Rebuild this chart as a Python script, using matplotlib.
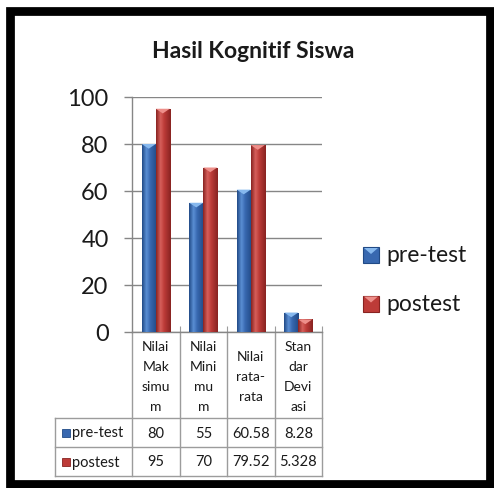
import numpy as np
import matplotlib.pyplot as plt
from matplotlib.patches import Rectangle, Polygon
from matplotlib.colors import LinearSegmentedColormap

# data
categories = ["Nilai\nMak\nsimu\nm", "Nilai\nMini\nmu\nm", "Nilai\nrata-\nrata", "Stan\ndar\nDevi\nasi"]
series_names = ["pre-test", "postest"]
pre_test = [80, 55, 60.58, 8.28]
postest = [95, 70, 79.52, 5.328]
pre_labels = ["80", "55", "60.58", "8.28"]
post_labels = ["95", "70", "79.52", "5.328"]
y_ticks = [0, 20, 40, 60, 80, 100]
title = "Hasil Kognitif Siswa"

# styling
W, H = 494, 489
AX_L, AX_R, AX_T, AX_B = 132, 322, 98, 333   # plot area in pixels
GRID = "#868686"
TABLE_LINE = "#9c9c9c"
BLUE = {"main": "#3868b0", "dark": "#214a86", "light": "#5a8fd4", "top": "#86b8ee"}
RED = {"main": "#bd3b38", "dark": "#882321", "light": "#d65f5b", "top": "#ee8f8a"}

plt.rcParams['font.family'] = ['Lato', 'DejaVu Sans']

fig = plt.figure(figsize=(W / 100, H / 100), dpi=100)
fig.patch.set_facecolor("white")

# background overlay in pixel coordinates (frame, title, legend, table)
bg = fig.add_axes([0, 0, 1, 1])
bg.set_xlim(0, W)
bg.set_ylim(H, 0)
bg.axis('off')

bg.add_patch(Rectangle((10, 11.5), 479.5, 473, fill=False, lw=6.3, ec="black"))
bg.text(253, 52, title, ha='center', va='center', fontsize=16.5, fontweight='bold', color="#1a1a1a")

# main plot
ax = fig.add_axes([AX_L / W, 1 - AX_B / H, (AX_R - AX_L) / W, (AX_B - AX_T) / H])
ax.patch.set_alpha(0)
x = np.arange(len(categories))
bw = 0.295


def make_cmap(c):
    return LinearSegmentedColormap.from_list(
        "g", [(0, c["dark"]), (0.3, c["light"]), (0.55, c["main"]), (1, c["dark"])])


def shade_bars(bars, c):
    cmap = make_cmap(c)
    grad = np.linspace(0, 1, 64).reshape(1, -1)
    for b in bars:
        x0, y0, w, h = b.get_x(), b.get_y(), b.get_width(), b.get_height()
        im = ax.imshow(grad, extent=[x0, x0 + w, y0, y0 + h], cmap=cmap,
                       aspect='auto', zorder=3, interpolation='bilinear')
        im.set_clip_path(b)
        # small lighter notch at the top of each column
        dy = 2.0
        ax.add_patch(Polygon([(x0, y0 + h), (x0 + w, y0 + h), (x0 + w / 2, y0 + h - dy)],
                             closed=True, fc=c["top"], ec='none', zorder=4))


bars_pre = ax.bar(x - bw / 2, pre_test, bw, color=BLUE["main"], zorder=2)
bars_post = ax.bar(x + bw / 2, postest, bw, color=RED["main"], zorder=2)
shade_bars(bars_pre, BLUE)
shade_bars(bars_post, RED)

ax.set_xlim(-0.5, len(categories) - 0.5)
ax.set_ylim(0, 100)
ax.set_yticks(y_ticks)
ax.yaxis.grid(True, color=GRID, lw=1)
ax.set_axisbelow(True)
ax.tick_params(axis='y', length=5.8, color=GRID, width=1, pad=11, labelsize=17, labelcolor="#1a1a1a")
ax.set_xticks(np.arange(len(categories)) + 0.5)
ax.tick_params(axis='x', direction='in', length=4, color=TABLE_LINE, labelbottom=False)
for s in ["top", "right"]:
    ax.spines[s].set_visible(False)
for s in ["left", "bottom"]:
    ax.spines[s].set_color(GRID)
    ax.spines[s].set_linewidth(1)

# data table under the axis
col_w = (AX_R - AX_L) / len(categories)
cols = [AX_L + i * col_w for i in range(len(categories) + 1)]
row_top, row1, row2, row3 = AX_B, 419, 448, 477
tbl_left = 55

for cx in cols:
    bg.plot([cx, cx], [row_top, row3], color=TABLE_LINE, lw=1)
bg.plot([tbl_left, tbl_left], [row1, row3], color=TABLE_LINE, lw=1)
for ry in [row1, row2, row3]:
    bg.plot([tbl_left, AX_R], [ry, ry], color=TABLE_LINE, lw=1)

for i, cat in enumerate(categories):
    cc = cols[i] + col_w / 2
    bg.text(cc, (row_top + row1) / 2 + 1, cat, ha='center', va='center',
            fontsize=10, linespacing=1.78, color="#1a1a1a")
    bg.text(cc, (row1 + row2) / 2, pre_labels[i], ha='center', va='center', fontsize=10.5, color="#1a1a1a")
    bg.text(cc, (row2 + row3) / 2, post_labels[i], ha='center', va='center', fontsize=10.5, color="#1a1a1a")

for name, c, ry in [(series_names[0], BLUE, (row1 + row2) / 2), (series_names[1], RED, (row2 + row3) / 2)]:
    bg.add_patch(Rectangle((62, ry - 4), 8, 8, fc=c["main"], ec=c["dark"], lw=0.6))
    bg.text(72, ry, name, ha='left', va='center', fontsize=10.5, color="#1a1a1a")

# legend
for name, c, ly in [(series_names[0], BLUE, 256), (series_names[1], RED, 304.5)]:
    bg.add_patch(Rectangle((363, ly - 8), 16, 16, fc=c["main"], ec=c["dark"], lw=0.8))
    bg.add_patch(Polygon([(364, ly - 7), (378, ly - 7), (371, ly - 1)], closed=True, fc=c["top"], ec='none'))
    bg.text(386, ly, name, ha='left', va='center', fontsize=16.5, color="#1a1a1a")

fig.savefig("out.png", dpi=100)
